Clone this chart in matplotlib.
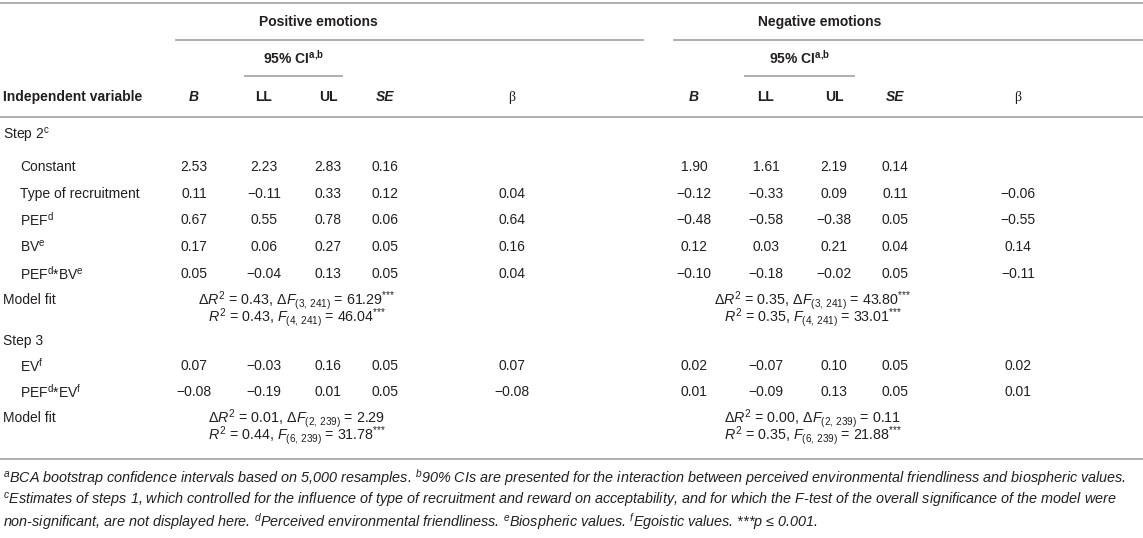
import matplotlib
matplotlib.use("Agg")
import matplotlib.pyplot as plt

plt.rcParams['font.family'] = ['Liberation Sans', 'DejaVu Sans']
plt.rcParams['mathtext.fontset'] = 'custom'
plt.rcParams['mathtext.rm'] = 'Liberation Sans'
plt.rcParams['mathtext.it'] = 'Liberation Sans:italic'
plt.rcParams['mathtext.bf'] = 'Liberation Sans:bold'

# ---- data ----
step2_labels = ['Constant', 'Type of recruitment', r'PEF$^{\mathregular{d}}$',
                r'BV$^{\mathregular{e}}$', r'PEF$^{\mathregular{d}}$*BV$^{\mathregular{e}}$']
step3_labels = [r'EV$^{\mathregular{f}}$', r'PEF$^{\mathregular{d}}$*EV$^{\mathregular{f}}$']

# columns: B, LL, UL, SE, beta
pos_step2 = [[2.53, 2.23, 2.83, 0.16, None],
             [0.11, -0.11, 0.33, 0.12, 0.04],
             [0.67, 0.55, 0.78, 0.06, 0.64],
             [0.17, 0.06, 0.27, 0.05, 0.16],
             [0.05, -0.04, 0.13, 0.05, 0.04]]
neg_step2 = [[1.90, 1.61, 2.19, 0.14, None],
             [-0.12, -0.33, 0.09, 0.11, -0.06],
             [-0.48, -0.58, -0.38, 0.05, -0.55],
             [0.12, 0.03, 0.21, 0.04, 0.14],
             [-0.10, -0.18, -0.02, 0.05, -0.11]]
pos_step3 = [[0.07, -0.03, 0.16, 0.05, 0.07],
             [-0.08, -0.19, 0.01, 0.05, -0.08]]
neg_step3 = [[0.02, -0.07, 0.10, 0.05, 0.02],
             [0.01, -0.09, 0.13, 0.05, 0.01]]

# model fit: (dR2, df_change, dF, stars, R2, df_model, F, stars)
pos_fit2 = (0.43, '3,\\,241', 61.29, True, 0.43, '4,\\,241', 46.04, True)
neg_fit2 = (0.35, '3,\\,241', 43.80, True, 0.35, '4,\\,241', 33.01, True)
pos_fit3 = (0.01, '2,\\,239', 2.29, False, 0.44, '6,\\,239', 31.78, True)
neg_fit3 = (0.00, '2,\\,239', 0.11, False, 0.35, '6,\\,239', 21.88, True)

footnotes = [
    r'$^{\mathit{a}}$BCA bootstrap confidence intervals based on 5,000 resamples. $^{\mathit{b}}$90% CIs are presented for the interaction between perceived environmental friendliness and biospheric values.',
    r'$^{\mathit{c}}$Estimates of steps 1, which controlled for the influence of type of recruitment and reward on acceptability, and for which the F-test of the overall significance of the model were',
    r'non-significant, are not displayed here. $^{\mathit{d}}$Perceived environmental friendliness. $^{\mathit{e}}$Biospheric values. $^{\mathit{f}}$Egoistic values. ***p ≤ 0.001.',
]

# ---- layout ----
pos_x = [194, 264, 328, 385, 512]
neg_x = [694, 766, 834, 895, 1018]
txt = '#231f20'
line_c = '#a8a8a8'
fs = 10.0
fs_fit = 10.3


def fmt(v):
    if v is None:
        return ''
    return f'{v:.2f}'.replace('-', '\u2212')


def fit_lines(f):
    s = r'$^{{*}{*}{*}}$'
    l1 = '\u0394$R^2$ = %.2f, \u0394$F_{(%s)}$ = %.2f%s' % (f[0], f[1], f[2], s if f[3] else '')
    l2 = '$R^2$ = %.2f, $F_{(%s)}$ = %.2f%s' % (f[4], f[5], f[6], s if f[7] else '')
    return l1, l2


fig = plt.figure(figsize=(11.43, 5.38), dpi=100)
ax = fig.add_axes([0, 0, 1, 1])
ax.set_xlim(0, 1143)
ax.set_ylim(538, 0)
ax.axis('off')

# rules
ax.plot([0, 1143], [3, 3], color=line_c, lw=1.3)
ax.plot([176, 643], [40, 40], color=line_c, lw=1.3)
ax.plot([674, 1143], [40, 40], color=line_c, lw=1.3)
ax.plot([245, 342], [76, 76], color=line_c, lw=1.3)
ax.plot([745, 854], [76, 76], color=line_c, lw=1.3)
ax.plot([0, 1143], [117, 117], color=line_c, lw=1.3)
ax.plot([0, 1143], [459, 459], color=line_c, lw=1.3)

# header
ax.text(318, 22, 'Positive emotions', ha='center', va='center', fontsize=fs, fontweight='bold', color=txt)
ax.text(820, 22, 'Negative emotions', ha='center', va='center', fontsize=fs, fontweight='bold', color=txt)
ax.text(294, 58, r'95% CI$^{\mathbf{a{,}b}}$', ha='center', va='center', fontsize=fs, fontweight='bold', color=txt)
ax.text(800, 58, r'95% CI$^{\mathbf{a{,}b}}$', ha='center', va='center', fontsize=fs, fontweight='bold', color=txt)
ax.text(3, 97, 'Independent variable', ha='left', va='center', fontsize=fs, fontweight='bold', color=txt)
for xs in (pos_x, neg_x):
    ax.text(xs[0], 97, 'B', ha='center', va='center', fontsize=fs, fontweight='bold', style='italic', color=txt)
    ax.text(xs[1], 97, 'LL', ha='center', va='center', fontsize=fs, fontweight='bold', color=txt)
    ax.text(xs[2], 97, 'UL', ha='center', va='center', fontsize=fs, fontweight='bold', color=txt)
    ax.text(xs[3], 97, 'SE', ha='center', va='center', fontsize=fs, fontweight='bold', style='italic', color=txt)
    ax.text(xs[4], 97, '\u03b2', ha='center', va='center', fontsize=fs, family='Liberation Serif', color=txt)


def draw_rows(labels, pos, neg, ys):
    for lab, pr, nr, y in zip(labels, pos, neg, ys):
        ax.text(20, y, lab, ha='left', va='center', fontsize=fs, color=txt)
        for xv, v in zip(pos_x, pr):
            ax.text(xv, y, fmt(v), ha='center', va='center', fontsize=fs, color=txt)
        for xv, v in zip(neg_x, nr):
            ax.text(xv, y, fmt(v), ha='center', va='center', fontsize=fs, color=txt)


def draw_fit(pf, nf, y1, y2):
    ax.text(3, y1, 'Model fit', ha='left', va='center', fontsize=fs, color=txt)
    a, b = fit_lines(pf)
    ax.text(297, y1 + 5, a, ha='center', va='baseline', fontsize=fs_fit, color=txt)
    ax.text(297, y2 + 5, b, ha='center', va='baseline', fontsize=fs_fit, color=txt)
    a, b = fit_lines(nf)
    ax.text(813, y1 + 5, a, ha='center', va='baseline', fontsize=fs_fit, color=txt)
    ax.text(813, y2 + 5, b, ha='center', va='baseline', fontsize=fs_fit, color=txt)


ax.text(3, 135, r'Step 2$^{\mathregular{c}}$', ha='left', va='center', fontsize=fs, color=txt)
draw_rows(step2_labels, pos_step2, neg_step2, [167, 194, 220, 247, 274])
draw_fit(pos_fit2, neg_fit2, 300, 317)
ax.text(3, 341, 'Step 3', ha='left', va='center', fontsize=fs, color=txt)
draw_rows(step3_labels, pos_step3, neg_step3, [366, 392])
draw_fit(pos_fit3, neg_fit3, 418, 435)

for i, line in enumerate(footnotes):
    ax.text(3, 478 + i * 22, line, ha='left', va='center', fontsize=10.4,
            style='italic', color=txt)

fig.savefig('out.png', dpi=100)
